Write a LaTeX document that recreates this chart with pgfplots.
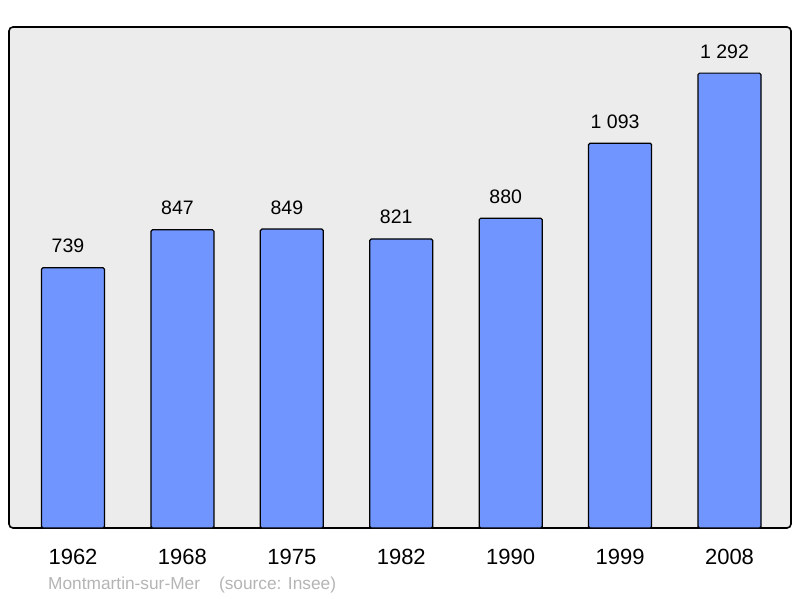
\documentclass[border=0pt]{standalone}
\usepackage{fontspec}
\setmainfont{Liberation Sans}
\usepackage{pgfplots}
\pgfplotsset{compat=1.18}
\definecolor{barblue}{HTML}{7095FF}
\definecolor{panel}{HTML}{ECECEC}
\definecolor{srcgray}{HTML}{B4B4B4}

\begin{document}
\begin{tikzpicture}[x=1pt,y=1pt]
\path[use as bounding box] (-9pt,-70pt) rectangle (791pt,528pt);
\begin{axis}[
    at={(0,0)}, anchor=south west,
    scale only axis,
    width=782pt, height=501pt,
    xmin=-0.585, xmax=6.562,
    ymin=0, ymax=1423,
    ybar, bar width=63pt, bar shift=0pt,
    axis background/.style={fill=panel, draw=black, line width=1.6pt, rounded corners=4pt},
    axis line style={draw=none},
    major tick length=0pt,
    ytick=\empty,
    xtick={0,...,6},
    xticklabels={1962,1968,1975,1982,1990,1999,2008},
    xticklabel style={font=\fontsize{22}{26}\selectfont, anchor=base, yshift=-36pt},
    /pgf/number format/assume math mode=true,
    /pgf/number format/1000 sep={\ },
    nodes near coords,
    nodes near coords style={font=\fontsize{19.5}{23}\selectfont, anchor=base, yshift=15pt, xshift=-5pt, text=black},
    clip=false,
]
\addplot[fill=barblue, draw=black, line width=1.2pt, rounded corners=1.5pt]
    coordinates {(0,739) (1,847) (2,849) (3,821) (4,880) (5,1093) (6,1292)};
\end{axis}
\node[anchor=base west, inner sep=0pt, text=srcgray, font=\fontsize{17.3}{20}\selectfont]
    at (39pt,-61pt) {Montmartin-sur-Mer\hspace{19pt}(source: Insee)};
\end{tikzpicture}
\end{document}
